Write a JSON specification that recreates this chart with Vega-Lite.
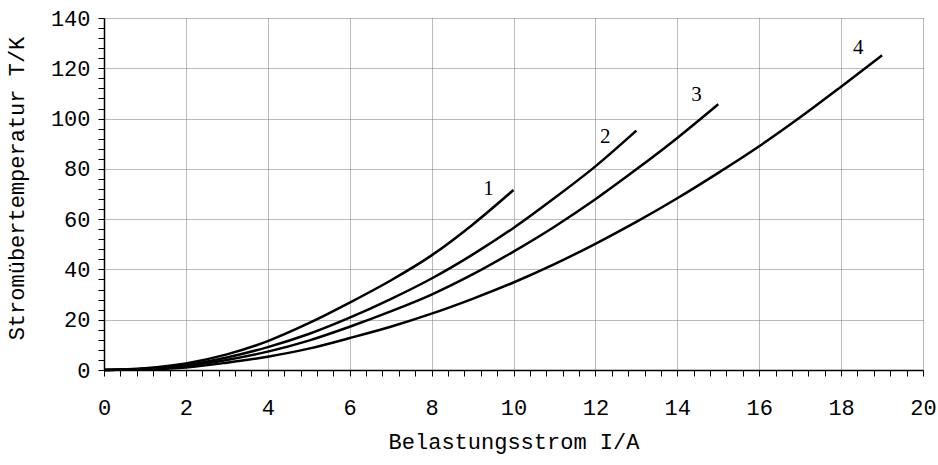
{
  "$schema": "https://vega.github.io/schema/vega-lite/v6.json",
  "width": 819,
  "height": 352,
  "autosize": "none",
  "padding": {"left": 104, "top": 18, "right": 15, "bottom": 95},
  "background": "white",
  "config": {"view": {"stroke": null}},
  "datasets": {
    "curves": [
      {"I": 0, "T": 0, "k": "1"}, {"I": 1, "T": 0.7, "k": "1"}, {"I": 2, "T": 2.6, "k": "1"}, {"I": 3, "T": 6.2, "k": "1"}, {"I": 4, "T": 11.5, "k": "1"}, {"I": 5, "T": 18.6, "k": "1"}, {"I": 6, "T": 26.8, "k": "1"}, {"I": 7, "T": 35.6, "k": "1"}, {"I": 8, "T": 45.6, "k": "1"}, {"I": 9, "T": 57.8, "k": "1"}, {"I": 10, "T": 71.6, "k": "1"},
      {"I": 0, "T": 0, "k": "2"}, {"I": 1, "T": 0.5, "k": "2"}, {"I": 2, "T": 2.0, "k": "2"}, {"I": 3, "T": 5.0, "k": "2"}, {"I": 4, "T": 9.1, "k": "2"}, {"I": 5, "T": 14.3, "k": "2"}, {"I": 6, "T": 20.8, "k": "2"}, {"I": 7, "T": 28.2, "k": "2"}, {"I": 8, "T": 36.4, "k": "2"}, {"I": 9, "T": 45.9, "k": "2"}, {"I": 10, "T": 56.5, "k": "2"}, {"I": 11, "T": 68.4, "k": "2"}, {"I": 12, "T": 81.0, "k": "2"}, {"I": 13, "T": 95.2, "k": "2"},
      {"I": 0, "T": 0, "k": "3"}, {"I": 1, "T": 0.4, "k": "3"}, {"I": 2, "T": 1.6, "k": "3"}, {"I": 3, "T": 4.0, "k": "3"}, {"I": 4, "T": 7.3, "k": "3"}, {"I": 5, "T": 11.7, "k": "3"}, {"I": 6, "T": 17.2, "k": "3"}, {"I": 7, "T": 23.3, "k": "3"}, {"I": 8, "T": 30.0, "k": "3"}, {"I": 9, "T": 38.0, "k": "3"}, {"I": 10, "T": 47.1, "k": "3"}, {"I": 11, "T": 57.0, "k": "3"}, {"I": 12, "T": 67.9, "k": "3"}, {"I": 13, "T": 79.8, "k": "3"}, {"I": 14, "T": 92.3, "k": "3"}, {"I": 15, "T": 105.7, "k": "3"},
      {"I": 0, "T": 0, "k": "4"}, {"I": 1, "T": 0.25, "k": "4"}, {"I": 2, "T": 1.0, "k": "4"}, {"I": 3, "T": 2.9, "k": "4"}, {"I": 4, "T": 5.3, "k": "4"}, {"I": 5, "T": 8.5, "k": "4"}, {"I": 6, "T": 12.7, "k": "4"}, {"I": 7, "T": 17.2, "k": "4"}, {"I": 8, "T": 22.4, "k": "4"}, {"I": 9, "T": 28.3, "k": "4"}, {"I": 10, "T": 34.8, "k": "4"}, {"I": 11, "T": 42.1, "k": "4"}, {"I": 12, "T": 50.2, "k": "4"}, {"I": 13, "T": 58.9, "k": "4"}, {"I": 14, "T": 68.3, "k": "4"}, {"I": 15, "T": 78.4, "k": "4"}, {"I": 16, "T": 89.0, "k": "4"}, {"I": 17, "T": 100.5, "k": "4"}, {"I": 18, "T": 112.7, "k": "4"}, {"I": 19, "T": 125.2, "k": "4"}
    ],
    "labels": [
      {"I": 9.39, "T": 71.8, "k": "1"},
      {"I": 12.24, "T": 92.5, "k": "2"},
      {"I": 14.47, "T": 109.4, "k": "3"},
      {"I": 18.42, "T": 127.9, "k": "4"}
    ]
  },
  "layer": [
    {
      "data": {"name": "curves"},
      "mark": {"type": "line", "color": "black", "strokeWidth": 2.5, "interpolate": "monotone"},
      "encoding": {
        "x": {
          "field": "I", "type": "quantitative",
          "scale": {"domain": [0, 20], "nice": false, "zero": false},
          "axis": {
            "orient": "bottom",
            "values": [0,0.4,0.8,1.2,1.6,2,2.4,2.8,3.2,3.6,4,4.4,4.8,5.2,5.6,6,6.4,6.8,7.2,7.6,8,8.4,8.8,9.2,9.6,10,10.4,10.8,11.2,11.6,12,12.4,12.8,13.2,13.6,14,14.4,14.8,15.2,15.6,16,16.4,16.8,17.2,17.6,18,18.4,18.8,19.2,19.6,20],
            "tickCount": 200,
            "labelExpr": "abs(datum.value/2 - round(datum.value/2)) < 0.001 ? format(datum.value, 'd') : ''",
            "labelOverlap": false, "labelBound": false,
            "title": "Belastungsstrom I/A",
            "titleFont": "Liberation Mono", "titleFontSize": 22, "titleFontWeight": "normal", "titleColor": "black", "titlePadding": 13,
            "labelFont": "Liberation Mono", "labelFontSize": 22, "labelColor": "black", "labelPadding": 21, "labelFlush": false,
            "tickSize": 6, "tickColor": "black",
            "domainColor": "black", "domainWidth": 1.5,
            "grid": true, "gridColor": "#777", "gridDash": [1, 1], "gridWidth": 1,
            "gridOpacity": {"condition": {"test": "abs(datum.value/2 - round(datum.value/2)) < 0.001", "value": 1}, "value": 0},
            "encode": {
              "ticks": {
                "update": {
                  "y": {"signal": "abs(datum.value/2 - round(datum.value/2)) < 0.001 ? -6 : 0"},
                  "y2": {"signal": "abs(datum.value/2 - round(datum.value/2)) < 0.001 ? 6 : 4"},
                  "strokeWidth": {"signal": "abs(datum.value/2 - round(datum.value/2)) < 0.001 ? 1.5 : 1"}
                }
              }
            }
          }
        },
        "y": {
          "field": "T", "type": "quantitative",
          "scale": {"domain": [0, 140], "nice": false},
          "axis": {
            "orient": "left",
            "values": [0,4,8,12,16,20,24,28,32,36,40,44,48,52,56,60,64,68,72,76,80,84,88,92,96,100,104,108,112,116,120,124,128,132,136,140],
            "tickCount": 200,
            "labelExpr": "abs(datum.value/20 - round(datum.value/20)) < 0.001 ? format(datum.value, 'd') : ''",
            "labelOverlap": false, "labelBound": false,
            "title": "Stromübertemperatur T/K",
            "titleFont": "Liberation Mono", "titleFontSize": 22, "titleFontWeight": "normal", "titleColor": "black", "titlePadding": 22, "titleY": 170,
            "labelFont": "Liberation Mono", "labelFontSize": 22, "labelColor": "black", "labelPadding": 8, "labelFlush": false,
            "tickSize": 6, "tickColor": "black",
            "domainColor": "black", "domainWidth": 1.5,
            "grid": true, "gridColor": "#777", "gridDash": [1, 1], "gridWidth": 1,
            "gridOpacity": {"condition": {"test": "abs(datum.value/20 - round(datum.value/20)) < 0.001", "value": 1}, "value": 0},
            "encode": {
              "ticks": {
                "update": {
                  "x": {"signal": "abs(datum.value/20 - round(datum.value/20)) < 0.001 ? 6 : 0"},
                  "x2": {"signal": "abs(datum.value/20 - round(datum.value/20)) < 0.001 ? -6 : -5"},
                  "strokeWidth": {"signal": "abs(datum.value/20 - round(datum.value/20)) < 0.001 ? 1.5 : 1"}
                }
              }
            }
          }
        },
        "detail": {"field": "k", "type": "nominal"}
      }
    },
    {
      "data": {"name": "labels"},
      "mark": {"type": "text", "font": "Liberation Serif", "fontSize": 21, "color": "black", "align": "center", "baseline": "middle"},
      "encoding": {
        "x": {"field": "I", "type": "quantitative"},
        "y": {"field": "T", "type": "quantitative"},
        "text": {"field": "k", "type": "nominal"}
      }
    }
  ]
}
